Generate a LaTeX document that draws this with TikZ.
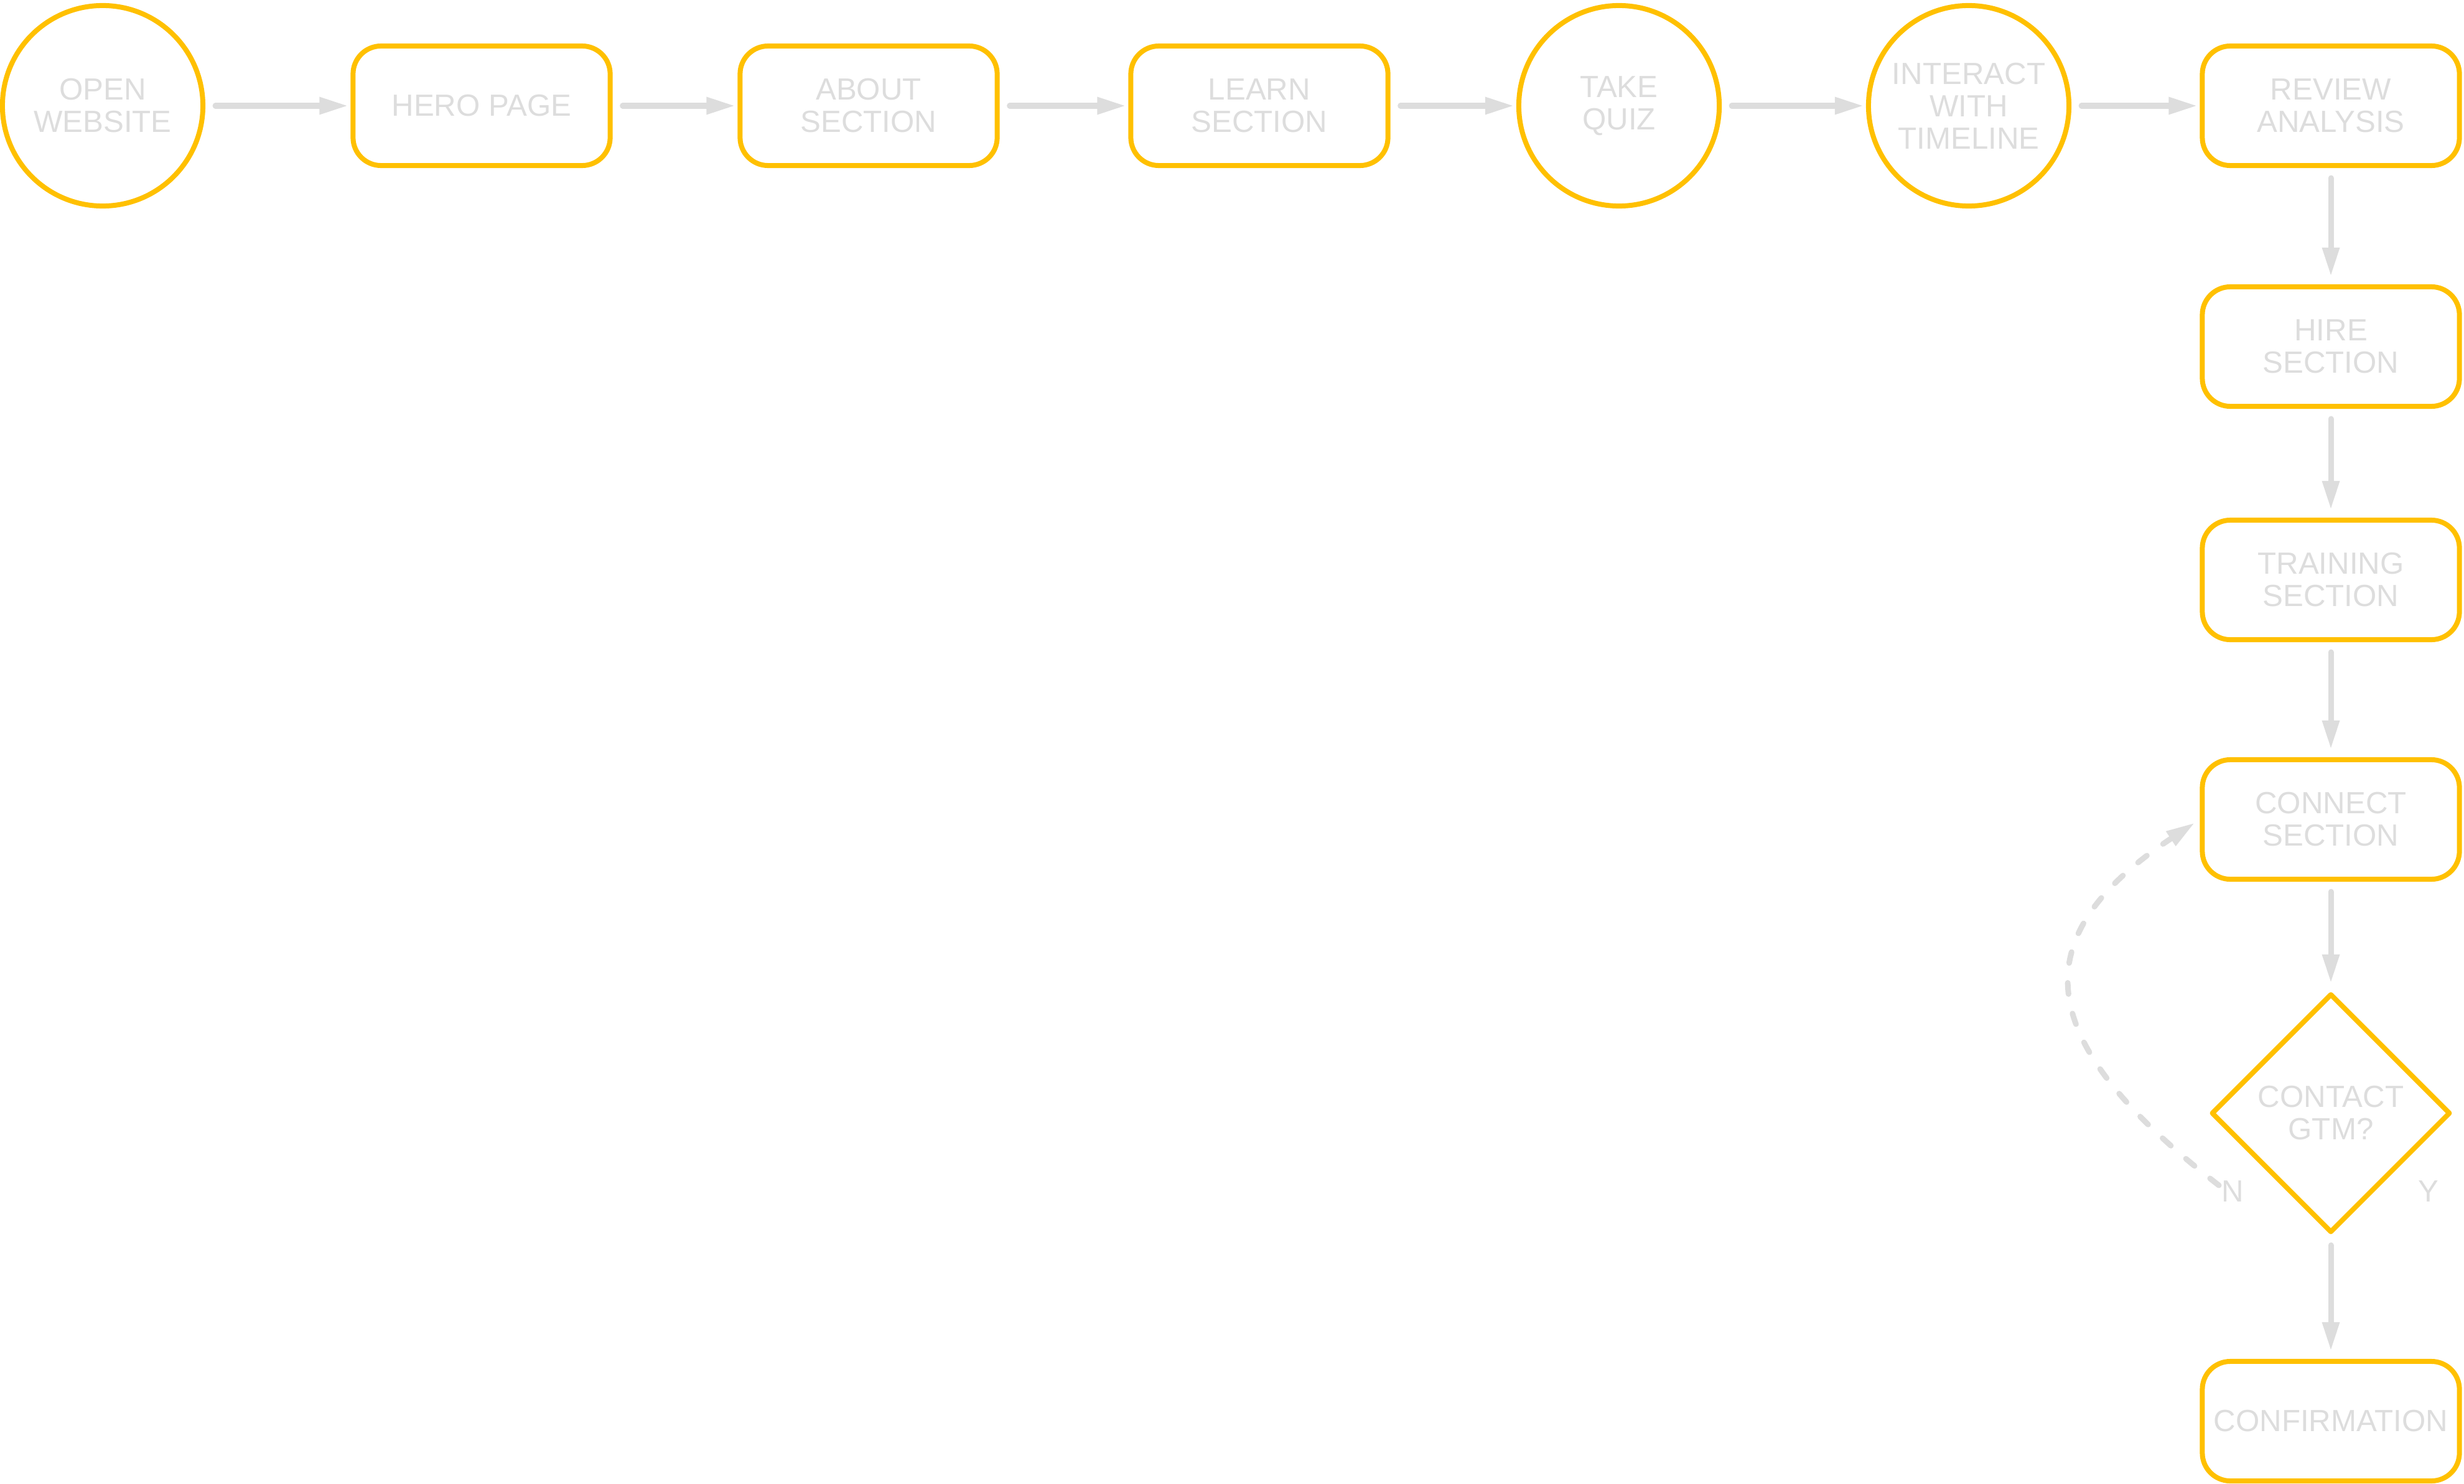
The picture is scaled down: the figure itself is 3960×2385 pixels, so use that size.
\documentclass[tikz,border=0pt]{standalone}
\usepackage{fontspec}
\setmainfont{Liberation Sans}
\usetikzlibrary{shapes.geometric,arrows.meta}
\definecolor{gold}{RGB}{255,192,0}
\definecolor{ash}{RGB}{221,221,221}
\begin{document}
\begin{tikzpicture}[x=0.01cm,y=-0.01cm,
	every node/.style={font=\fontsize{14pt}{14.8pt}\selectfont,text=ash,align=center},
	stepcirc/.style={circle,draw=gold,line width=0.08cm,minimum size=3.22cm,inner sep=0pt},
	stepbox/.style={rectangle,rounded corners=0.45cm,draw=gold,line width=0.08cm,minimum width=4.13cm,minimum height=1.92cm,inner sep=0pt},
	decide/.style={diamond,draw=gold,line width=0.08cm,line join=round,minimum size=3.84cm,inner sep=0pt},
	flow/.style={draw=ash,line width=0.09cm,line cap=round,-{Triangle[length=0.44cm,width=0.29cm,line width=0pt]},shorten <=0.16cm,shorten >=0.06cm}]
\useasboundingbox (0,0) rectangle (3960,2385);
\node[stepcirc] (open) at (165,170) {OPEN\\WEBSITE};
\node[stepbox] (hero) at (774,170) {HERO PAGE};
\node[stepbox] (about) at (1396,170) {ABOUT\\SECTION};
\node[stepbox] (learn) at (2024,170) {LEARN\\SECTION};
\node[stepcirc] (quiz) at (2602,170) {TAKE\\QUIZ};
\node[stepcirc] (timeline) at (3164,170) {INTERACT\\WITH\\TIMELINE};
\node[stepbox] (review) at (3746,170) {REVIEW\\ANALYSIS};
\node[stepbox] (hire) at (3746,557) {HIRE\\SECTION};
\node[stepbox] (training) at (3746,932) {TRAINING\\SECTION};
\node[stepbox] (connect) at (3746,1317) {CONNECT\\SECTION};
\node[decide] (contact) at (3746,1789) {CONTACT\\GTM?};
\node[stepbox] (confirm) at (3746,2284) {CONFIRMATION};
\node[inner sep=0pt] (lblN) at (3588,1915) {N};
\node[inner sep=0pt] (lblY) at (3903,1915) {Y};
\foreach \a/\b in {open/hero,hero/about,about/learn,learn/quiz,quiz/timeline,timeline/review}
	\draw[flow] (\a) -- (\b);
\foreach \a/\b in {review/hire,hire/training,training/connect,connect/contact,contact/confirm}
	\draw[flow,shorten >=0.15cm] (\a) -- (\b);
\coordinate (nout) at (3566,1905);
\draw[flow,dash pattern=on 0.18cm off 0.32cm,shorten <=0pt,shorten >=0.12cm]
	(nout) .. controls (3286,1688) and (3232,1518) .. (connect.west);
\end{tikzpicture}
\end{document}
